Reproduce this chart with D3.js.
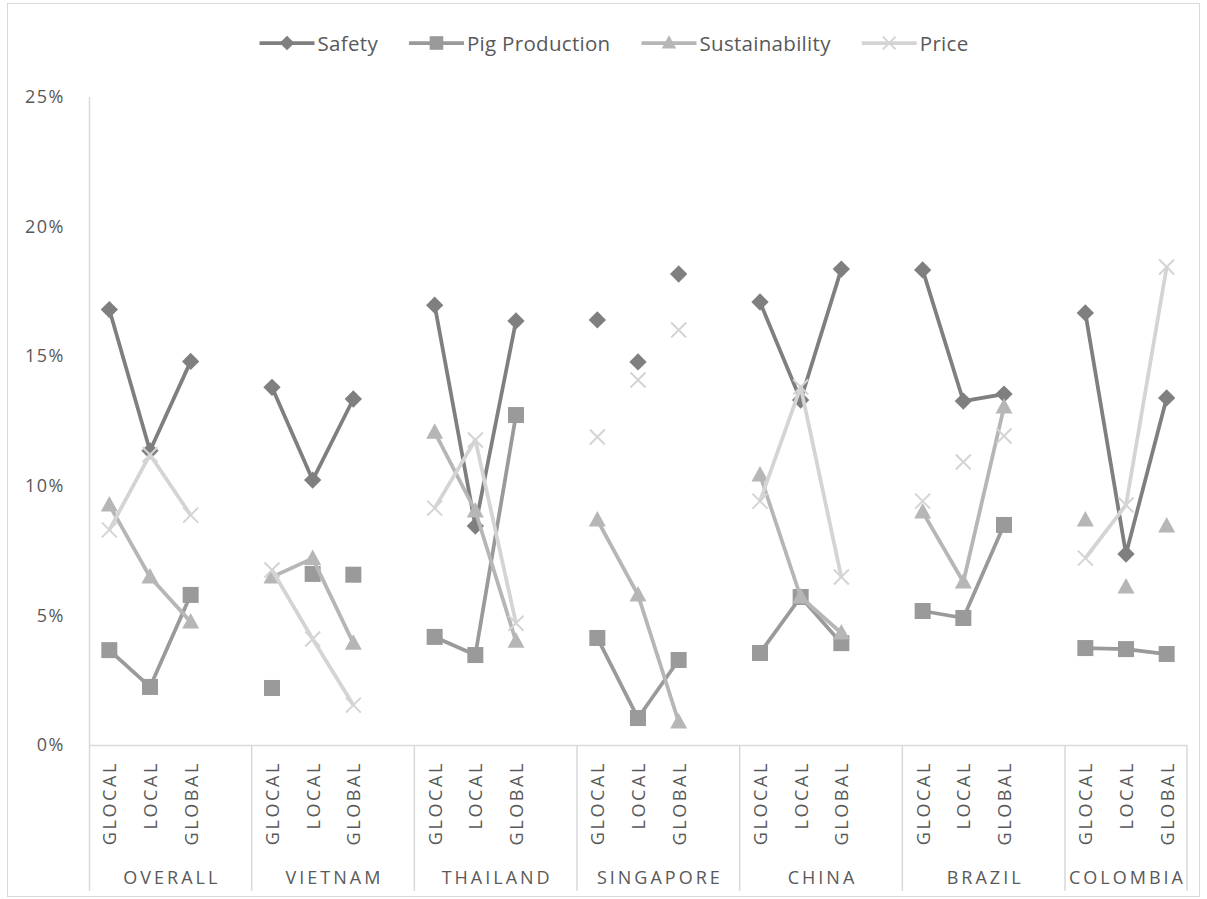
<!DOCTYPE html>
<html>
<head>
<meta charset="utf-8">
<script src="https://cdn.jsdelivr.net/npm/d3@7"></script>
<style>
  body { margin: 0; background: #fff; }
  svg { display: block; }
  text { font-family: "Open Sans", sans-serif; fill: #595959; }
</style>
</head>
<body>
<svg id="chart" width="1207" height="899"></svg>
<script>
// Country groups and the three strategy levels within each
const groups = ["OVERALL", "VIETNAM", "THAILAND", "SINGAPORE", "CHINA", "BRAZIL", "COLOMBIA"];
const levels = ["GLOCAL", "LOCAL", "GLOBAL"];

// Share (%) per group, in order GLOCAL, LOCAL, GLOBAL
const safety = [16.8, 11.35, 14.8,  13.8, 10.22, 13.35,  16.97, 8.45, 16.36,  16.4, 14.78, 18.17,  17.09, 13.31, 18.36,  18.33, 13.27, 13.54,  16.67, 7.37, 13.39];
const pigProduction = [3.66, 2.24, 5.79,  2.2, 6.6, 6.57,  4.17, 3.47, 12.73,  4.13, 1.04, 3.28,  3.55, 5.71, 3.93,  5.17, 4.9, 8.49,  3.74, 3.7, 3.51];
const sustainability = [9.26, 6.48, 4.75,  6.48, 7.2, 3.93,  12.07, 9.03, 4.0,  8.68, 5.79, 0.89,  10.42, 5.71, 4.32,  8.99, 6.29, 13.04,  8.68, 6.1, 8.45];
const price = [8.3, 11.2, 8.87,  6.75, 4.09, 1.54,  9.14, 11.77, 4.7,  11.88, 14.08, 16.01,  9.41, 13.81, 6.48,  9.41, 10.92, 11.92,  7.21, 9.26, 18.44];

// Whether a series' points are joined by a line inside each group
const safetyJoined = [1, 1, 1, 0, 1, 1, 1];
const pigJoined = [1, 0, 1, 1, 1, 1, 1];
const sustainabilityJoined = [1, 1, 1, 1, 1, 1, 0];
const priceJoined = [1, 1, 1, 0, 1, 0, 1];

const yTicks = [0, 5, 10, 15, 20, 25];

const series = [
  { name: "Safety", values: safety, joined: safetyJoined, color: "#7f7f7f", symbol: "diamond" },
  { name: "Pig Production", values: pigProduction, joined: pigJoined, color: "#9a9a9a", symbol: "square" },
  { name: "Sustainability", values: sustainability, joined: sustainabilityJoined, color: "#b6b6b6", symbol: "triangle" },
  { name: "Price", values: price, joined: priceJoined, color: "#d4d4d4", symbol: "cross" }
];

const svg = d3.select("#chart");
const axisColor = "#d9d9d9";

// Chart frame
svg.append("rect").attr("x", 7.5).attr("y", 3.5).attr("width", 1192).attr("height", 893)
  .attr("fill", "none").attr("stroke", axisColor).attr("stroke-width", 1);

const plotLeft = 89, plotRight = 1187, plotTop = 97, plotBottom = 745, labelBottom = 891;

// Each group takes four slots: three levels and one empty spacer (none after the last group)
const slotCount = groups.length * 4 - 1;
const x = d3.scaleBand().domain(d3.range(slotCount)).range([plotLeft, plotRight]).padding(0);
const xPos = (g, i) => x(g * 4 + i) + x.bandwidth() / 2;

const y = d3.scaleLinear().domain([0, 25]).range([plotBottom, plotTop]);

// Value axis (line only, no ticks)
const yAxis = d3.axisLeft(y).tickValues(yTicks).tickFormat(d => d + "%").tickSize(0).tickPadding(24);
const yg = svg.append("g").attr("transform", `translate(${plotLeft},0)`).call(yAxis);
yg.select(".domain").remove();
yg.selectAll("text").attr("font-size", 18).attr("letter-spacing", "1.5px")
  .style("font-family", "'Open Sans', sans-serif").attr("fill", "#595959");

svg.append("line").attr("x1", plotLeft + 0.5).attr("x2", plotLeft + 0.5)
  .attr("y1", plotTop).attr("y2", labelBottom).attr("stroke", axisColor).attr("stroke-width", 1.5);

// Category axis baseline and group separators
svg.append("line").attr("x1", plotLeft).attr("x2", plotRight)
  .attr("y1", plotBottom + 0.5).attr("y2", plotBottom + 0.5).attr("stroke", axisColor).attr("stroke-width", 1.5);

const bounds = groups.map((g, gi) => [x(gi * 4), gi === groups.length - 1 ? plotRight : x(gi * 4 + 4)]);
const sepX = bounds.map(b => b[1]);
svg.selectAll("line.sep").data(sepX).join("line").attr("class", "sep")
  .attr("x1", d => d).attr("x2", d => d)
  .attr("y1", plotBottom).attr("y2", labelBottom)
  .attr("stroke", axisColor).attr("stroke-width", 1.5);

// Level labels (rotated)
const levelLabels = [];
groups.forEach((g, gi) => levels.forEach((l, li) => levelLabels.push({ gi, li, l })));
svg.selectAll("text.level").data(levelLabels).join("text").attr("class", "level")
  .attr("transform", d => `translate(${xPos(d.gi, d.li)},${plotBottom + 16}) rotate(-90)`)
  .attr("text-anchor", "end").attr("dominant-baseline", "central")
  .attr("font-size", 18).attr("letter-spacing", "2.6px")
  .text(d => d.l);

// Group labels
svg.selectAll("text.group").data(groups).join("text").attr("class", "group")
  .attr("x", (d, i) => (bounds[i][0] + bounds[i][1]) / 2 + 1.5)
  .attr("y", 884)
  .attr("text-anchor", "middle").attr("font-size", 18).attr("letter-spacing", "3px")
  .text(d => d);

// Marker shapes
function drawMarker(sel, s, size) {
  const k = size || 1;
  if (s.symbol === "diamond") {
    sel.append("path").attr("d", d3.symbol(d3.symbolSquare, 150 * k * k)())
      .attr("transform", "rotate(45)").attr("fill", s.color);
  } else if (s.symbol === "square") {
    sel.append("rect").attr("x", -8 * k).attr("y", -8 * k).attr("width", 16 * k).attr("height", 16 * k)
      .attr("fill", s.color);
  } else if (s.symbol === "triangle") {
    sel.append("path").attr("d", `M0,${-9 * k}L${8.5 * k},${6.5 * k}L${-8.5 * k},${6.5 * k}Z`).attr("fill", s.color);
  } else {
    const r = 7.5 * k;
    sel.append("path").attr("d", `M${-r},${-r}L${r},${r}M${-r},${r}L${r},${-r}`)
      .attr("stroke", s.color).attr("stroke-width", 2).attr("fill", "none");
  }
}

const line = d3.line().x(d => d.x).y(d => d.y);

series.forEach(s => {
  const g = svg.append("g");
  groups.forEach((grp, gi) => {
    const pts = levels.map((l, li) => ({ x: xPos(gi, li), y: y(s.values[gi * 3 + li]) }));
    if (s.joined[gi]) {
      g.append("path").attr("d", line(pts)).attr("fill", "none")
        .attr("stroke", s.color).attr("stroke-width", 3.75).attr("stroke-linejoin", "round");
    }
    pts.forEach(p => {
      const m = g.append("g").attr("transform", `translate(${p.x},${p.y})`);
      drawMarker(m, s);
    });
  });
});

// Legend
const legend = svg.append("g");
let cx = 0;
series.forEach(s => {
  const it = legend.append("g").attr("transform", `translate(${cx},0)`);
  it.append("line").attr("x1", 0).attr("x2", 55).attr("y1", 0).attr("y2", 0)
    .attr("stroke", s.color).attr("stroke-width", 3.75);
  const m = it.append("g").attr("transform", "translate(27.5,0)");
  drawMarker(m, s, 0.85);
  const t = it.append("text").attr("x", 58).attr("y", 0).attr("dominant-baseline", "central")
    .attr("font-size", 20.5).attr("letter-spacing", "0.3px").text(s.name);
  const w = t.node().getComputedTextLength();
  cx += 58 + w + 31;
});
const legendWidth = cx - 31;
legend.attr("transform", `translate(${614 - legendWidth / 2},43)`);
</script>
</body>
</html>
